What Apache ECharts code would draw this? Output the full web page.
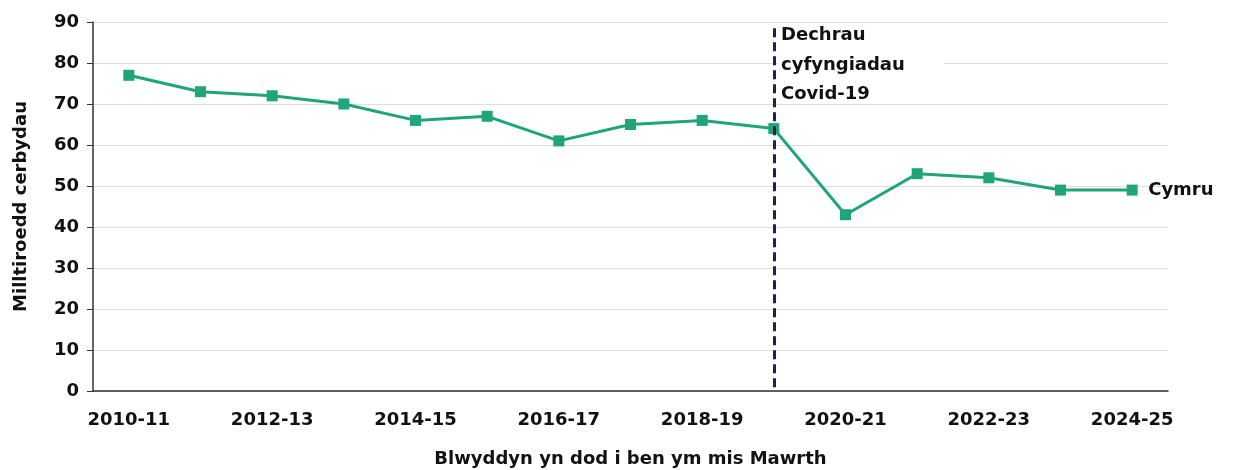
<!DOCTYPE html>
<html>
<head>
<meta charset="utf-8">
<script src="https://cdn.jsdelivr.net/npm/echarts@6/dist/echarts.min.js"></script>
<style>
  html, body { margin: 0; padding: 0; background: #fff; }
  #chart { width: 1244px; height: 470px; }
</style>
</head>
<body>
<div id="chart"></div>
<script>
// Vehicle miles (billions) in Wales, year ending March
const years = ['2010-11','2011-12','2012-13','2013-14','2014-15','2015-16','2016-17','2017-18',
               '2018-19','2019-20','2020-21','2021-22','2022-23','2023-24','2024-25'];
const cymru = [77, 73, 72, 70, 66, 67, 61, 65, 66, 64, 43, 53, 52, 49, 49];
const covidStart = '2019-20';
const covidNote = 'Dechrau\ncyfyngiadau\nCovid-19';
const seriesName = 'Cymru';
const yTitle = 'Milltiroedd cerbydau';
const xTitle = 'Blwyddyn yn dod i ben ym mis Mawrth';

const FONT = '"DejaVu Sans", sans-serif';
const GREEN = '#1fa576';
const INK = '#111111';

const chart = echarts.init(document.getElementById('chart'));
chart.setOption({
  animation: false,
  grid: { left: 93, right: 76, top: 22, bottom: 79, containLabel: false, outerBoundsMode: 'none' },
  xAxis: {
    type: 'category',
    data: years,
    boundaryGap: true,
    axisLine: { lineStyle: { color: '#333', width: 1.5 } },
    axisTick: { alignWithLabel: true, length: 6, lineStyle: { color: '#333' } },
    axisLabel: {
      interval: 1, margin: 20,
      fontFamily: FONT, fontWeight: 'bold', fontSize: 18, color: INK
    },
    name: xTitle,
    nameLocation: 'middle',
    nameGap: 59,
    nameTextStyle: { fontFamily: FONT, fontWeight: 'bold', fontSize: 18, color: INK }
  },
  yAxis: {
    type: 'value',
    min: 0, max: 90, interval: 10,
    axisLine: { show: true, lineStyle: { color: '#333', width: 1.5 } },
    axisTick: { show: true, length: 6, lineStyle: { color: '#333' } },
    splitLine: { lineStyle: { color: '#dedede', width: 1.2 } },
    axisLabel: {
      margin: 14,
      fontFamily: FONT, fontWeight: 'bold', fontSize: 18, color: INK
    },
    name: yTitle,
    nameLocation: 'middle',
    nameGap: 63,
    nameTextStyle: { fontFamily: FONT, fontWeight: 'bold', fontSize: 18, color: INK }
  },
  series: [{
    name: seriesName,
    type: 'line',
    data: cymru,
    symbol: 'rect',
    symbolSize: 11,
    lineStyle: { color: GREEN, width: 3 },
    itemStyle: { color: GREEN },
    endLabel: {
      show: true,
      formatter: seriesName,
      distance: 16,
      fontFamily: FONT, fontWeight: 'bold', fontSize: 18, color: INK
    },
    markLine: {
      silent: true,
      symbol: ['none', 'none'],
      lineStyle: { color: '#1b2350', type: [9, 5], width: 3 },
      label: { show: false },
      data: [[{ xAxis: covidStart, yAxis: 88.5 }, { xAxis: covidStart, yAxis: 0 }]]
    }
  }],
  graphic: [{
    // white panel behind the annotation text
    type: 'rect',
    shape: { x: 778, y: 27, width: 166, height: 72 },
    style: { fill: '#ffffff' },
    z: 49
  }, {
    type: 'text',
    left: 781, top: 21,
    z: 50,
    style: {
      text: covidNote,
      fontFamily: FONT, fontWeight: 'bold', fontSize: 18,
      lineHeight: 29.5, fill: INK
    }
  }]
});
</script>
</body>
</html>
